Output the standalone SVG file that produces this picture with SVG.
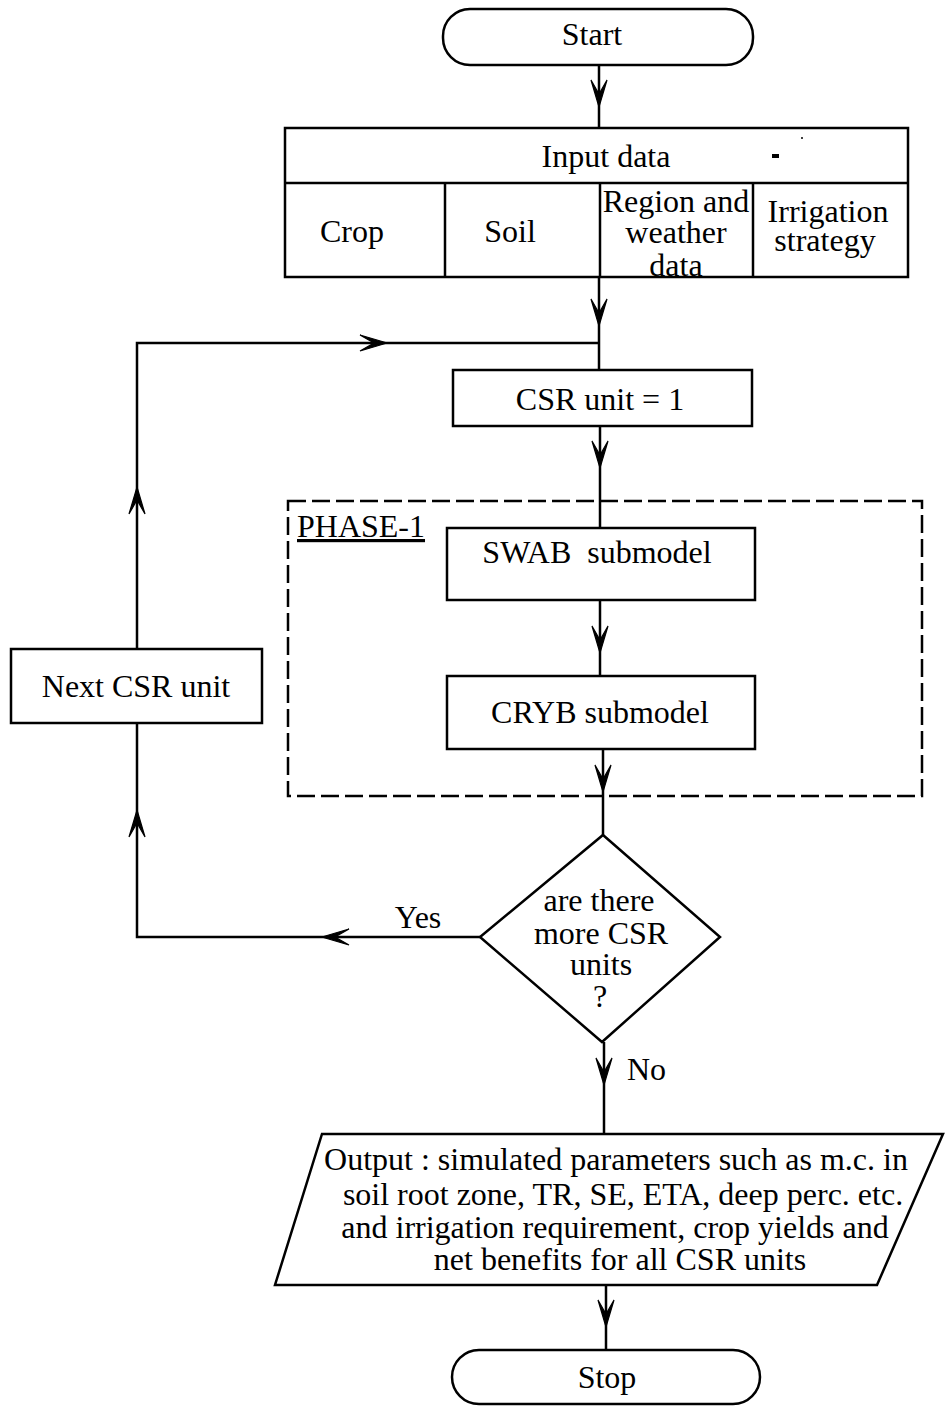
<svg xmlns="http://www.w3.org/2000/svg" xmlns:xlink="http://www.w3.org/1999/xlink" width="947" height="1406" viewBox="0 0 947 1406">
  <style>
    .shape { fill: #fff; stroke: #000; stroke-width: 2.5; }
    .dash { fill: none; stroke: #000; stroke-width: 2.5; stroke-dasharray: 18 6; }
    .wire { fill: none; stroke: #000; stroke-width: 2.5; }
    .t { font-family: "Liberation Serif", "Times New Roman", serif; font-size: 32px; fill: #000; text-anchor: middle; white-space: pre; }
    .l { text-anchor: start; }
  </style>
  <defs>
    <!-- barbed arrowhead pointing down, tip at origin -->
    <path id="ah" d="M0,0 L-8,-27 L0,-13 L8,-27 Z" fill="#000" stroke="#000" stroke-width="1.2" stroke-linejoin="miter"/>
  </defs>
  <rect width="947" height="1406" fill="#fff"/>

  <!-- connectors -->
  <g id="connectors">
    <line class="wire" x1="599" y1="65" x2="599" y2="128"/>
    <use xlink:href="#ah" transform="translate(599,107)"/>
    <line class="wire" x1="599" y1="277" x2="599" y2="370"/>
    <use xlink:href="#ah" transform="translate(599,326)"/>
    <polyline class="wire" points="137,649 137,343 599,343"/>
    <use xlink:href="#ah" transform="translate(387,343) rotate(-90)"/>
    <use xlink:href="#ah" transform="translate(137,487) rotate(180)"/>
    <line class="wire" x1="600" y1="426" x2="600" y2="528"/>
    <use xlink:href="#ah" transform="translate(600,468)"/>
    <line class="wire" x1="600" y1="600" x2="600" y2="676"/>
    <use xlink:href="#ah" transform="translate(600,653)"/>
    <line class="wire" x1="603" y1="749" x2="603" y2="835"/>
    <use xlink:href="#ah" transform="translate(603,792)"/>
    <polyline class="wire" points="480,937 137,937 137,723"/>
    <use xlink:href="#ah" transform="translate(322,937) rotate(90)"/>
    <use xlink:href="#ah" transform="translate(137,810) rotate(180)"/>
    <text class="t" x="418" y="928">Yes</text>
    <line class="wire" x1="604" y1="1042" x2="604" y2="1134"/>
    <use xlink:href="#ah" transform="translate(604,1085)"/>
    <text class="t l" x="627" y="1080">No</text>
    <line class="wire" x1="606" y1="1285" x2="606" y2="1350"/>
    <use xlink:href="#ah" transform="translate(606,1327)"/>
  </g>

  <g id="start">
    <rect class="shape" x="443" y="9" width="310" height="56" rx="27" ry="27"/>
    <text class="t" x="592" y="45">Start</text>
  </g>

  <g id="input-data">
    <rect class="shape" x="285" y="128" width="623" height="149"/>
    <line class="wire" x1="285" y1="183" x2="908" y2="183"/>
    <line class="wire" x1="445" y1="183" x2="445" y2="277"/>
    <line class="wire" x1="600" y1="183" x2="600" y2="277"/>
    <line class="wire" x1="753" y1="183" x2="753" y2="277"/>
    <text class="t" x="606" y="167">Input data</text>
    <rect x="772" y="154" width="7" height="4" fill="#000"/>
    <circle cx="802" cy="138" r="1" fill="#000"/>
    <text class="t" x="352" y="242">Crop</text>
    <text class="t" x="510" y="242">Soil</text>
    <text class="t" x="676" y="212">Region and</text>
    <text class="t" x="676" y="243">weather</text>
    <text class="t" x="676" y="276">data</text>
    <text class="t" x="828" y="222">Irrigation</text>
    <text class="t" x="825" y="251">strategy</text>
  </g>

  <g id="csr-unit-1">
    <rect class="shape" x="453" y="370" width="299" height="56"/>
    <text class="t" x="600" y="410">CSR unit = 1</text>
  </g>

  <g id="phase-1">
    <rect class="dash" x="288" y="501" width="634" height="295"/>
    <text class="t l" x="297" y="537" text-decoration="underline">PHASE-1</text>
  </g>

  <g id="swab">
    <rect class="shape" x="447" y="528" width="308" height="72"/>
    <text class="t" x="597" y="563">SWAB  submodel</text>
  </g>

  <g id="cryb">
    <rect class="shape" x="447" y="676" width="308" height="73"/>
    <text class="t" x="600" y="723">CRYB submodel</text>
  </g>

  <g id="decision">
    <polygon class="shape" points="603,835 720,937 602,1042 480,937"/>
    <text class="t" x="599" y="911">are there</text>
    <text class="t" x="601" y="944">more CSR</text>
    <text class="t" x="601" y="975">units</text>
    <text class="t" x="600" y="1007">?</text>
  </g>

  <g id="next-csr">
    <rect class="shape" x="11" y="649" width="251" height="74"/>
    <text class="t" x="136" y="697">Next CSR unit</text>
  </g>

  <g id="output">
    <polygon class="shape" points="322,1134 943,1134 877,1285 275,1285"/>
    <text class="t" x="616" y="1170">Output : simulated parameters such as m.c. in</text>
    <text class="t" x="623" y="1205">soil root zone, TR, SE, ETA, deep perc. etc.</text>
    <text class="t" x="615" y="1238">and irrigation requirement, crop yields and</text>
    <text class="t" x="620" y="1270">net benefits for all CSR units</text>
  </g>

  <g id="stop">
    <rect class="shape" x="452" y="1350" width="308" height="54" rx="27" ry="27"/>
    <text class="t" x="607" y="1388">Stop</text>
  </g>
</svg>
